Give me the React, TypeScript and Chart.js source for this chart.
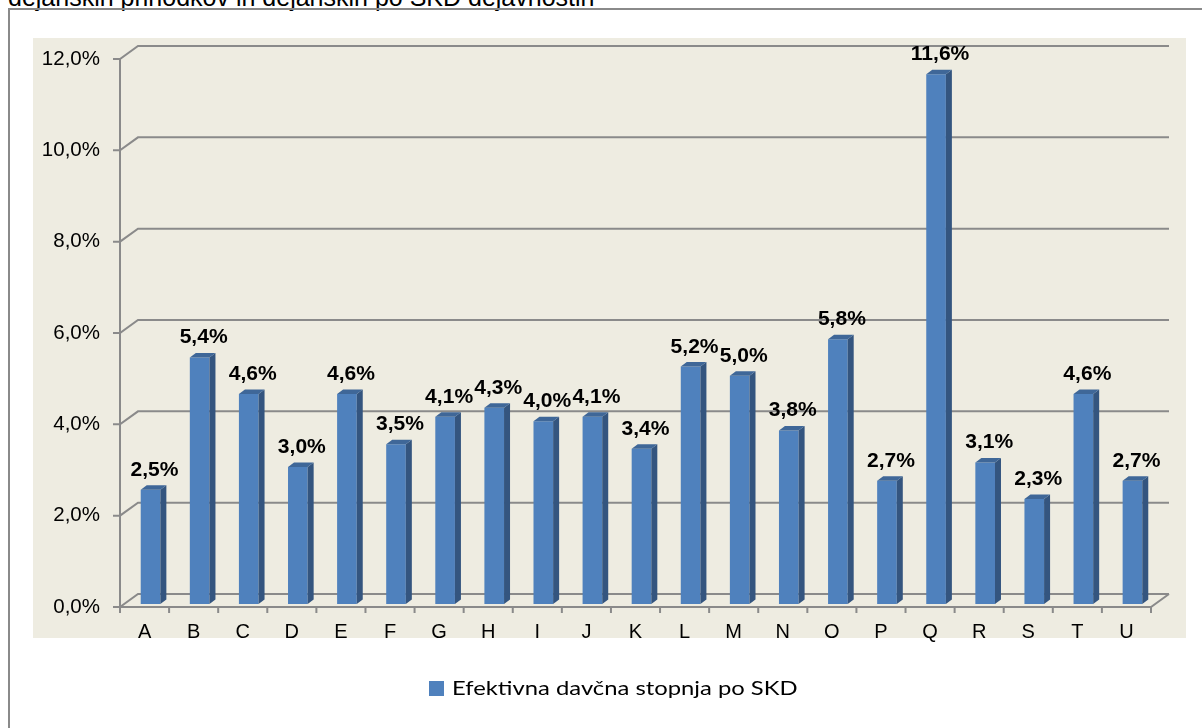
import React, { useEffect, useRef } from "react";
import { Chart, registerables } from "chart.js";

Chart.register(...registerables);

const categories = ["A", "B", "C", "D", "E", "F", "G", "H", "I", "J", "K", "L", "M", "N", "O", "P", "Q", "R", "S", "T", "U"];
const values = [2.5, 5.4, 4.6, 3.0, 4.6, 3.5, 4.1, 4.3, 4.0, 4.1, 3.4, 5.2, 5.0, 3.8, 5.8, 2.7, 11.6, 3.1, 2.3, 4.6, 2.7];
const yTicks = [0, 2, 4, 6, 8, 10, 12];
const seriesName = "Efektivna davčna stopnja po SKD";
const titleText = "dejanskih prihodkov in dejanskih po SKD dejavnostih";

const FONT = '"Liberation Sans", Arial, sans-serif';
const BAR = "#4F81BD";
const BAR_SIDE = "#34557F";
const BAR_TOP = "#3F6798";
const GRID = "#8A8A8A";
const WALL_DX = 18;
const WALL_DY = -13;
const BAR_SHIFT_X = 6;
const BAR_SHIFT_Y = -3;
const BAR_DX = 6;
const BAR_DY = -4.5;

const fmt = (v: number) => v.toFixed(1).replace(".", ",") + "%";

const threeD = {
  id: "threeD",
  beforeDraw(chart: any) {
    const { ctx } = chart;
    ctx.save();
    ctx.fillStyle = "#EEECE1";
    ctx.fillRect(33, 38, 1153, 600);
    ctx.restore();
  },
  beforeDatasetsDraw(chart: any) {
    const { ctx, chartArea } = chart;
    const y = chart.scales.y;
    const L = chartArea.left;
    const R = chartArea.right;
    ctx.save();
    ctx.strokeStyle = GRID;
    ctx.lineWidth = 2;
    ctx.lineJoin = "miter";
    yTicks.forEach((v) => {
      const py = y.getPixelForValue(v);
      ctx.beginPath();
      ctx.moveTo(L - 7, py);
      ctx.lineTo(L, py);
      ctx.lineTo(L + WALL_DX, py + WALL_DY);
      ctx.lineTo(R + WALL_DX, py + WALL_DY);
      ctx.stroke();
    });
    const y0 = y.getPixelForValue(0);
    const yTop = y.getPixelForValue(yTicks[yTicks.length - 1]);
    ctx.beginPath();
    ctx.moveTo(L, yTop);
    ctx.lineTo(L, y0);
    ctx.lineTo(R, y0);
    ctx.lineTo(R + WALL_DX, y0 + WALL_DY);
    ctx.stroke();
    const n = categories.length;
    ctx.beginPath();
    for (let i = 0; i <= n; i++) {
      const px = L + ((R - L) * i) / n;
      ctx.moveTo(px, y0);
      ctx.lineTo(px, y0 + 6);
    }
    ctx.stroke();
    ctx.restore();
    ctx.save();
    ctx.translate(BAR_SHIFT_X, BAR_SHIFT_Y);
  },
  afterDatasetsDraw(chart: any) {
    const { ctx } = chart;
    const meta = chart.getDatasetMeta(0);
    meta.data.forEach((bar: any, i: number) => {
      const p = bar.getProps(["x", "y", "base", "width"], true);
      const l = p.x - p.width / 2;
      const r = p.x + p.width / 2;
      const top = p.y;
      const bottom = p.base;
      ctx.fillStyle = BAR_SIDE;
      ctx.beginPath();
      ctx.moveTo(r, top);
      ctx.lineTo(r + BAR_DX, top + BAR_DY);
      ctx.lineTo(r + BAR_DX, bottom + BAR_DY);
      ctx.lineTo(r, bottom);
      ctx.closePath();
      ctx.fill();
      ctx.fillStyle = BAR_TOP;
      ctx.beginPath();
      ctx.moveTo(l, top);
      ctx.lineTo(l + BAR_DX, top + BAR_DY);
      ctx.lineTo(r + BAR_DX, top + BAR_DY);
      ctx.lineTo(r, top);
      ctx.closePath();
      ctx.fill();
      ctx.save();
      ctx.translate(p.x + 4, top - 14);
      ctx.scale(1.08, 1);
      ctx.fillStyle = "#000";
      ctx.font = `bold 19.5px ${FONT}`;
      ctx.textAlign = "center";
      ctx.textBaseline = "alphabetic";
      ctx.fillText(fmt(values[i]), 0, 0);
      ctx.restore();
    });
    ctx.restore();
  },
};

export default function App() {
  const ref = useRef<HTMLCanvasElement | null>(null);
  useEffect(() => {
    if (!ref.current) return;
    const chart = new Chart(ref.current, {
      type: "bar",
      data: {
        labels: categories,
        datasets: [
          {
            label: seriesName,
            data: values,
            backgroundColor: BAR,
            borderWidth: 0,
            categoryPercentage: 1,
            barPercentage: 0.4,
          },
        ],
      },
      options: {
        animation: false,
        responsive: false,
        maintainAspectRatio: false,
        devicePixelRatio: 1,
        layout: { padding: { left: 33, right: 51, top: 59, bottom: 81 } },
        plugins: { legend: { display: false }, tooltip: { enabled: false } },
        scales: {
          x: {
            grid: { display: false, drawTicks: false },
            border: { display: false },
            ticks: { color: "#000", font: { family: FONT, size: 20 }, padding: 13, maxRotation: 0, autoSkip: false },
            afterFit(s: any) {
              s.height = 40;
            },
          },
          y: {
            min: 0,
            max: 12,
            grid: { display: false, drawTicks: false },
            border: { display: false },
            ticks: {
              stepSize: 2,
              color: "#000",
              font: { family: FONT, size: 20.5 },
              padding: 20,
              callback: (v: any) => fmt(Number(v)),
            },
            afterFit(s: any) {
              s.width = 87;
            },
          },
        },
      },
      plugins: [threeD],
    } as any);
    return () => chart.destroy();
  }, []);

  return (
    <div style={{ position: "fixed", left: 0, top: 0, width: 1202, height: 728, background: "#fff", overflow: "hidden" }}>
      <div
        style={{
          position: "absolute",
          left: 8,
          top: -17,
          font: `25px ${FONT}`,
          lineHeight: "normal",
          color: "#000",
          whiteSpace: "nowrap",
        }}
      >
        {titleText}
      </div>
      <div
        style={{
          position: "absolute",
          left: 8,
          top: 8,
          width: 1300,
          height: 900,
          border: "2px solid #8A8A8A",
          boxSizing: "border-box",
        }}
      />
      <canvas ref={ref} width={1202} height={728} style={{ position: "absolute", left: 0, top: 0, display: "block" }} />
      <div style={{ position: "absolute", left: 429, top: 681, width: 15, height: 15, background: BAR }} />
      <div
        style={{
          position: "absolute",
          left: 452,
          top: 675,
          font: '20px Lato, "Open Sans", sans-serif',
          lineHeight: "normal",
          color: "#000",
          whiteSpace: "nowrap",
          transform: "scaleX(1.19)",
          transformOrigin: "0 0",
        }}
      >
        {seriesName}
      </div>
    </div>
  );
}
